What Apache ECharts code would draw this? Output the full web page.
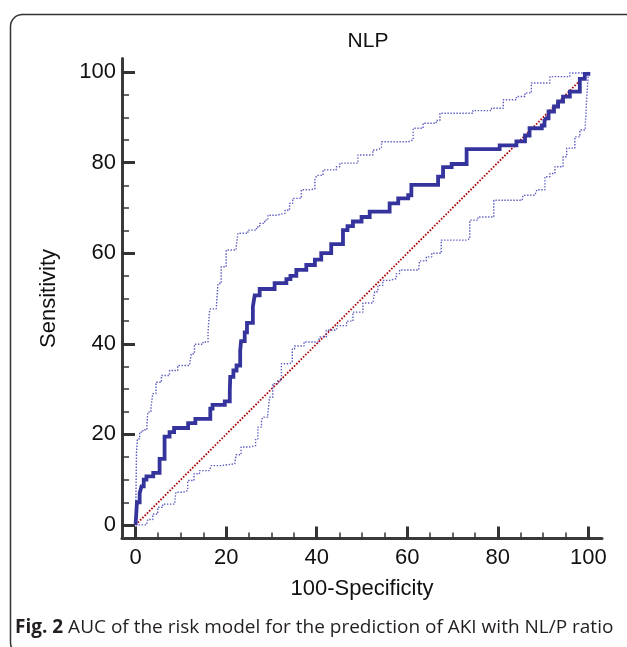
<!DOCTYPE html>
<html>
<head>
<meta charset="utf-8">
<script src="https://cdn.jsdelivr.net/npm/echarts@6/dist/echarts.min.js"></script>
<style>
html,body{margin:0;padding:0;background:#fff;}
#chart{width:627px;height:647px;}
</style>
</head>
<body>
<div id="chart"></div>
<script>
// ROC curve (100-Specificity, Sensitivity) — step points
const rocX = [0,0.3,0.9,1.3,1.8,2.4,3.9,5.3,6.4,7.5,8.5,11.6,13.2,16.5,17,19.7,20.8,20.9,21.6,22.3,23.1,23.3,24.1,24.6,25.9,26.3,27.4,30.7,33.3,34.2,35.5,37.7,39.6,41,43.2,45.8,46.8,48,49.9,51.7,56.1,58,60.2,60.9,66.8,67.9,69.8,73.1,80.4,84.1,86,87,89.7,90.3,90.7,91.2,92.4,93.3,94.4,95.9,98.1,99.2,100];
const rocY = [0,5,7,8.5,10,10.7,11.5,14.6,19.5,20.5,21.4,22.5,23.4,25.7,26.5,27.3,29.5,32.7,34.1,35.2,38.5,40.6,42.5,44.6,48.2,50.7,52.1,53.4,54.3,55,56.3,57.4,58.6,60,62,65.1,66,67,68,69.2,71,72.1,72.8,75.1,76.9,79,79.7,83,83.8,84.7,86,87.6,88.2,89.3,89.8,91.3,92.4,93.5,94.6,95.7,98.5,99.6,100];

// Upper 95% confidence bound
const upperX = [0,0.2,0.4,0.9,1.6,2.5,2.7,3.4,3.8,4.5,5.7,7.5,9.3,11.9,12.3,13,14.9,16,16.3,16.5,17.8,18.2,18.9,20,22.2,22.6,24.8,26.7,27.4,28.5,29.2,31.1,33,34,34.7,36.6,38.4,39.6,40,41.4,44.3,45.1,49.1,52.4,53.2,54.3,60.2,61.3,63.5,66.4,67.2,74.5,78.6,81.2,84.1,86,87.4,91.5,95.9,100];
const upperY = [0,16,19,20.5,21,22,24.9,26,29,31.5,33,34.1,35.2,35.6,37.8,39.9,40.4,42.6,47,47.7,48.1,53.3,57,60.7,61.4,64.4,65.1,65.8,66.6,67.3,68.4,68.8,69.5,71,72.1,74,74.2,76.2,77.2,78.4,79.1,79.9,81.7,82.8,83.2,84.6,85,87.6,88.7,89.3,90.9,91.5,92,93.9,94.6,95.4,97.6,99,99.8,100];

// Lower 95% confidence bound
const lowerX = [0,2.4,2.7,3.8,4.9,6,8.6,8.9,10.5,11.5,12.9,14.1,16.3,16.7,18.9,21.9,22.2,23.3,25.2,26.5,27,27.8,28.1,29.2,29.6,30.3,31.4,32.2,34,34.6,35.1,37.2,40.3,40.7,42.1,44.3,44.6,46.6,48,50.2,52.4,52.8,53.5,54.6,56.1,57.6,58.3,62.5,62.7,64.2,65.4,67.5,73.1,73.8,75.6,79.1,85.4,85.6,88.2,88.6,90.4,91.5,92.6,94.4,95.2,97,98.1,99.3,99.6,100];
const lowerY = [0,0,1.2,2.4,3.9,4.6,5,7.2,7.6,9.8,11.3,12,12.4,13.1,13.5,13.6,15.5,17.2,17.5,19,21.6,23.1,23.8,24.4,28.2,31.2,31.9,35.6,36,38.8,39.5,40.4,40.6,41.5,43,43.4,44,45,47,49,49.2,51.5,52.9,54,54.4,55.5,56.3,56.5,58.3,59.2,60,62.9,63.2,67.3,68,71.7,72.2,72.8,73.2,74,76.9,77.6,79.1,81.3,83.2,85.7,87.2,88,93.9,100];

// Chance diagonal
const diagX = [0,100];
const diagY = [0,100];

// Axis ticks and labels
const majorTicks = [0,20,40,60,80,100];
const minorTicks = [5,10,15,25,30,35,45,50,55,65,70,75,85,90,95];

const titleText = 'NLP';
const xName = '100-Specificity';
const yName = 'Sensitivity';
const captionBold = 'Fig. 2';
const captionText = ' AUC of the risk model for the prediction of AKI with NL/P ratio';

const zip = (a, b) => a.map((v, i) => [v, b[i]]);

const chart = echarts.init(document.getElementById('chart'), null, {renderer: 'canvas'});

const FONT = 'Liberation Sans';
const axisColor = '#3a3a3a';
const LABEL_SIZE = 22;

function xAxisBase() {
  return {type: 'value', min: -3, max: 103, position: 'bottom', splitLine: {show: false}};
}
function yAxisBase() {
  return {type: 'value', min: -3, max: 103, position: 'left', splitLine: {show: false}};
}

const option = {
  animation: false,
  backgroundColor: '#ffffff',
  title: {
    text: titleText,
    left: 363,
    top: 26,
    textAlign: 'center',
    textStyle: {fontFamily: FONT, fontSize: 21, fontWeight: 'normal', color: '#111'}
  },
  grid: {left: 122, top: 58.5, width: 480, height: 480, containLabel: false},
  xAxis: [
    Object.assign(xAxisBase(), {
      axisLine: {show: true, onZero: false, lineStyle: {color: axisColor, width: 3}},
      axisTick: {show: true, inside: true, length: 12, customValues: majorTicks, lineStyle: {color: '#333', width: 3}},
      axisLabel: {show: true, customValues: majorTicks, margin: 8, fontFamily: FONT, fontSize: LABEL_SIZE, color: '#111'},
      name: xName,
      nameLocation: 'middle',
      nameGap: 39,
      nameTextStyle: {fontFamily: FONT, fontSize: LABEL_SIZE, color: '#111'}
    }),
    Object.assign(xAxisBase(), {
      axisLine: {show: false, onZero: false},
      axisTick: {show: true, inside: true, length: 6, customValues: minorTicks, lineStyle: {color: '#333', width: 1.5}},
      axisLabel: {show: false}
    })
  ],
  yAxis: [
    Object.assign(yAxisBase(), {
      axisLine: {show: true, onZero: false, lineStyle: {color: axisColor, width: 3}},
      axisTick: {show: true, inside: true, length: 13, customValues: majorTicks, lineStyle: {color: '#333', width: 3}},
      axisLabel: {show: true, customValues: majorTicks, margin: 6, fontFamily: FONT, fontSize: LABEL_SIZE, color: '#111'},
      name: yName,
      nameLocation: 'middle',
      nameGap: 62,
      nameRotate: 90,
      nameTextStyle: {fontFamily: FONT, fontSize: LABEL_SIZE, color: '#111'}
    }),
    Object.assign(yAxisBase(), {
      axisLine: {show: false, onZero: false},
      axisTick: {show: true, inside: true, length: 7, customValues: minorTicks, lineStyle: {color: '#333', width: 1.5}},
      axisLabel: {show: false}
    })
  ],
  series: [
    {
      name: 'Diagonal', type: 'line', data: zip(diagX, diagY), showSymbol: false, silent: true,
      lineStyle: {color: '#b00000', width: 1.8, type: [1.6, 1.6]}
    },
    {
      name: 'Upper CI', type: 'line', step: 'end', data: zip(upperX, upperY), showSymbol: false, silent: true,
      lineStyle: {color: '#5a5ac0', width: 1.4, type: [1.4, 1.6]}
    },
    {
      name: 'Lower CI', type: 'line', step: 'end', data: zip(lowerX, lowerY), showSymbol: false, silent: true,
      lineStyle: {color: '#5a5ac0', width: 1.4, type: [1.4, 1.6]}
    },
    {
      name: 'ROC', type: 'line', step: 'end', data: zip(rocX, rocY), showSymbol: false, silent: true,
      lineStyle: {color: '#34349c', width: 3.8, join: 'miter'}
    }
  ],
  graphic: [
    {
      type: 'rect', left: 8, top: 12, silent: true,
      shape: {width: 640, height: 640, r: 12},
      style: {fill: 'none', stroke: '#333', lineWidth: 1.5}
    },
    {
      type: 'text', left: 15, top: 618, silent: true,
      style: {
        text: '{b|' + captionBold + '}{r|' + captionText + '}',
        rich: {
          b: {fontFamily: 'Open Sans', fontWeight: 'bold', fontSize: 19, fill: '#231f20'},
          r: {fontFamily: 'Open Sans', fontSize: 19, fill: '#231f20'}
        }
      }
    }
  ]
};

chart.setOption(option);
</script>
</body>
</html>
